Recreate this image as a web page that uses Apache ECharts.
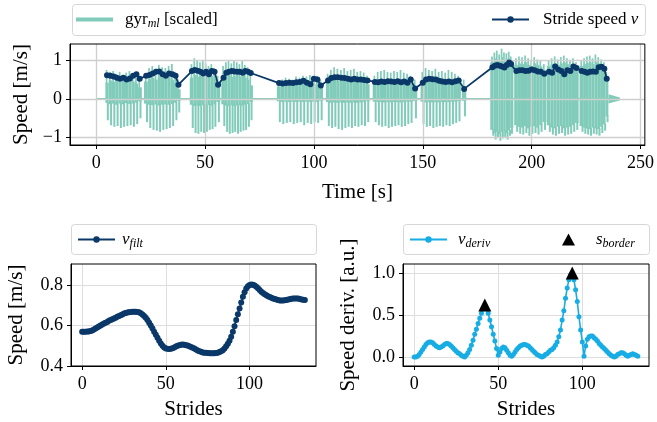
<!DOCTYPE html>
<html>
<head>
<meta charset="utf-8">
<script src="https://cdn.jsdelivr.net/npm/echarts@6/dist/echarts.min.js"></script>
<style>
  html, body { margin: 0; padding: 0; background: #fff; }
  #chart { width: 657px; height: 422px; }
</style>
</head>
<body>
<div id="chart"></div>
<script>
// stride times [s] and stride speeds [m/s], one entry per stride (12 walking bouts)
const strideTime = [
  5.0, 6.5, 8.0, 9.5, 11.0, 12.5, 14.0, 15.5, 17.0, 18.5, 20.0,
  23.0, 24.5, 26.0, 27.5, 29.0, 30.5, 32.0, 33.5, 35.0, 36.5, 37.8,
  44.0, 45.3, 46.6, 47.9, 49.2, 50.5, 51.8, 53.1, 54.4, 56.0,
  58.5, 59.8, 61.0, 62.3, 63.5, 64.8, 66.0, 67.3, 68.5, 69.8, 71.0,
  84.0, 85.6, 87.2, 88.8, 90.4, 92.0, 93.6, 95.2, 96.8, 98.4, 100.0, 101.6, 103.2,
  106.5, 108.0, 109.5, 111.0, 112.6, 114.1, 115.6, 117.1, 118.6, 120.1, 121.6, 123.1, 124.6,
  128.0, 129.5, 131.0, 132.5, 134.0, 135.5, 137.0, 138.5, 140.0, 141.5, 143.0, 144.5, 146.5,
  150.0, 151.5, 153.0, 154.5, 156.0, 157.5, 159.0, 160.5, 162.0, 163.5, 165.0, 166.5, 169.0,
  182.0, 183.1, 184.2, 185.3, 186.4, 187.5, 188.6, 189.7, 190.6,
  193.0, 194.4, 195.8, 197.2, 198.6, 200.0, 201.4, 202.8, 204.2, 205.8,
  208.0, 209.4, 210.8, 212.2, 213.6, 215.0, 216.4, 217.8, 219.2, 220.6,
  223.0, 224.3, 225.6, 226.9, 228.2, 229.5, 230.8, 232.1, 233.4, 234.5
]
const strideSpeed = [
  0.61, 0.60, 0.58, 0.55, 0.52, 0.55, 0.50, 0.53, 0.60, 0.64, 0.52,
  0.60, 0.62, 0.66, 0.70, 0.71, 0.64, 0.60, 0.66, 0.64, 0.60, 0.37,
  0.72, 0.75, 0.73, 0.70, 0.66, 0.70, 0.64, 0.72, 0.70, 0.37,
  0.55, 0.68, 0.70, 0.72, 0.71, 0.70, 0.70, 0.68, 0.72, 0.70, 0.67,
  0.41, 0.40, 0.41, 0.42, 0.41, 0.43, 0.44, 0.47, 0.42, 0.38, 0.52, 0.50, 0.35,
  0.48, 0.54, 0.56, 0.56, 0.55, 0.54, 0.52, 0.50, 0.52, 0.50, 0.50, 0.49, 0.48,
  0.44, 0.43, 0.45, 0.44, 0.46, 0.45, 0.44, 0.46, 0.43, 0.45, 0.42, 0.50, 0.27,
  0.42, 0.50, 0.52, 0.51, 0.50, 0.47, 0.45, 0.44, 0.45, 0.43, 0.46, 0.48, 0.26,
  0.82, 0.86, 0.88, 0.86, 0.84, 0.81, 0.88, 0.94, 0.90,
  0.72, 0.74, 0.74, 0.72, 0.73, 0.76, 0.74, 0.71, 0.70, 0.65,
  0.70, 0.68, 0.84, 0.76, 0.72, 0.64, 0.74, 0.72, 0.84, 0.80,
  0.72, 0.70, 0.68, 0.70, 0.71, 0.70, 0.82, 0.83, 0.78, 0.52
]

// gyr_ml (scaled): peak values of each stride swing
const gyrPos = [
  0.75, 0.70, 0.72, 0.65, 0.70, 0.62, 0.68, 0.72, 0.60, 0.55, 0.50,
  0.60, 0.80, 0.85, 0.78, 0.88, 0.82, 0.80, 0.85, 0.90, 0.70, 0.50,
  0.90, 1.05, 0.98, 0.95, 1.00, 0.92, 0.85, 0.90, 0.80, 0.60,
  0.85, 0.95, 1.00, 0.92, 0.98, 0.95, 0.90, 1.00, 0.88, 0.82, 0.60,
  0.45, 0.50, 0.55, 0.52, 0.50, 0.58, 0.55, 0.60, 0.58, 0.62, 0.55, 0.60, 0.50,
  0.65, 0.75, 0.82, 0.78, 0.75, 0.80, 0.72, 0.75, 0.78, 0.70, 0.72, 0.68, 0.60,
  0.60, 0.70, 0.72, 0.75, 0.70, 0.68, 0.72, 0.70, 0.75, 0.68, 0.65, 0.60, 0.50,
  0.70, 0.80, 0.75, 0.72, 0.78, 0.70, 0.72, 0.68, 0.75, 0.70, 0.65, 0.60, 0.50,
  1.10, 1.20, 1.25, 1.15, 1.30, 1.20, 1.18, 1.22, 1.10,
  1.05, 1.10, 1.08, 1.12, 1.05, 1.00, 1.08, 1.02, 0.98, 0.90,
  1.00, 1.05, 1.10, 1.02, 1.08, 1.12, 1.05, 1.00, 1.05, 0.95,
  1.00, 1.05, 1.10, 1.12, 1.05, 1.15, 1.08, 1.02, 0.95, 0.70
]
const gyrNeg = [
  -0.55, -0.68, -0.72, -0.70, -0.75, -0.72, -0.70, -0.68, -0.72, -0.65, -0.50,
  -0.60, -0.75, -0.80, -0.82, -0.85, -0.80, -0.78, -0.75, -0.70, -0.55, -0.35,
  -0.75, -0.88, -0.90, -0.85, -0.88, -0.85, -0.80, -0.78, -0.72, -0.60,
  -0.70, -0.85, -0.90, -0.88, -0.85, -0.90, -0.85, -0.82, -0.80, -0.72, -0.55,
  -0.60, -0.65, -0.62, -0.60, -0.65, -0.62, -0.60, -0.68, -0.62, -0.65, -0.60, -0.62, -0.55,
  -0.70, -0.75, -0.72, -0.78, -0.80, -0.75, -0.72, -0.75, -0.70, -0.72, -0.68, -0.70, -0.60,
  -0.60, -0.68, -0.72, -0.70, -0.75, -0.72, -0.70, -0.68, -0.72, -0.70, -0.65, -0.62, -0.50,
  -0.65, -0.72, -0.70, -0.75, -0.72, -0.70, -0.72, -0.68, -0.70, -0.65, -0.62, -0.58, -0.45,
  -0.95, -1.05, -1.00, -1.08, -1.02, -0.98, -1.05, -0.95, -0.90,
  -0.85, -0.90, -0.92, -0.88, -0.95, -0.90, -0.88, -0.92, -0.85, -0.80,
  -0.85, -0.92, -0.95, -0.90, -0.88, -0.95, -0.92, -0.90, -0.85, -0.80,
  -0.85, -0.90, -0.92, -0.95, -0.90, -0.92, -0.95, -0.88, -0.82, -0.60
]
// densely filled part of each stride swing (upper and lower edge)
const gyrMid = [
  0.42, 0.48, 0.45, 0.50, 0.44, 0.47, 0.43, 0.49, 0.45, 0.40, 0.30,
  0.45, 0.52, 0.55, 0.50, 0.58, 0.54, 0.52, 0.56, 0.50, 0.42, 0.25,
  0.55, 0.62, 0.58, 0.60, 0.56, 0.62, 0.57, 0.60, 0.52, 0.35,
  0.50, 0.58, 0.62, 0.57, 0.60, 0.63, 0.58, 0.60, 0.55, 0.50, 0.35,
  0.32, 0.38, 0.40, 0.36, 0.40, 0.42, 0.38, 0.41, 0.43, 0.40, 0.38, 0.40, 0.30,
  0.42, 0.48, 0.52, 0.47, 0.50, 0.53, 0.48, 0.50, 0.47, 0.49, 0.46, 0.44, 0.38,
  0.38, 0.44, 0.46, 0.42, 0.47, 0.44, 0.46, 0.43, 0.47, 0.44, 0.42, 0.40, 0.30,
  0.44, 0.50, 0.47, 0.49, 0.46, 0.48, 0.45, 0.47, 0.44, 0.46, 0.42, 0.40, 0.30,
  0.95, 1.05, 1.02, 0.98, 1.08, 1.00, 1.04, 1.00, 0.90,
  0.88, 0.92, 0.90, 0.95, 0.88, 0.85, 0.92, 0.88, 0.84, 0.75,
  0.85, 0.90, 0.92, 0.88, 0.92, 0.95, 0.90, 0.86, 0.88, 0.80,
  0.85, 0.90, 0.93, 0.95, 0.90, 0.96, 0.92, 0.88, 0.80, 0.55
]
const gyrLow = [
  -0.10, -0.14, -0.12, -0.15, -0.12, -0.14, -0.11, -0.13, -0.12, -0.10, -0.06,
  -0.12, -0.15, -0.16, -0.14, -0.17, -0.15, -0.14, -0.15, -0.13, -0.10, -0.05,
  -0.15, -0.18, -0.17, -0.18, -0.16, -0.18, -0.16, -0.17, -0.14, -0.08,
  -0.14, -0.17, -0.18, -0.16, -0.18, -0.17, -0.16, -0.17, -0.15, -0.13, -0.08,
  -0.06, -0.08, -0.07, -0.08, -0.07, -0.08, -0.07, -0.08, -0.07, -0.08, -0.07, -0.08, -0.05,
  -0.08, -0.10, -0.09, -0.10, -0.09, -0.10, -0.09, -0.10, -0.09, -0.10, -0.09, -0.08, -0.06,
  -0.07, -0.08, -0.08, -0.09, -0.08, -0.09, -0.08, -0.08, -0.09, -0.08, -0.07, -0.07, -0.05,
  -0.07, -0.09, -0.08, -0.09, -0.08, -0.09, -0.08, -0.08, -0.08, -0.07, -0.07, -0.06, -0.05,
  -0.80, -0.88, -0.85, -0.90, -0.86, -0.84, -0.88, -0.82, -0.75,
  -0.68, -0.72, -0.74, -0.70, -0.76, -0.72, -0.70, -0.74, -0.68, -0.60,
  -0.68, -0.74, -0.76, -0.72, -0.70, -0.76, -0.74, -0.72, -0.68, -0.62,
  -0.70, -0.74, -0.76, -0.78, -0.74, -0.76, -0.78, -0.72, -0.66, -0.45
]
// quiet wobble after the last stride: start, end [s], amplitude
const tailSpan = [235.3, 240.5, 0.12]

// filtered speed and normalised derivative per stride index (0..133)
const vFilt = [
  0.569, 0.569, 0.569, 0.570, 0.571, 0.573, 0.576, 0.580, 0.585, 0.590,
  0.595, 0.600, 0.605, 0.610, 0.614, 0.618, 0.623, 0.627, 0.631, 0.635,
  0.639, 0.643, 0.647, 0.651, 0.655, 0.659, 0.662, 0.664, 0.666, 0.667,
  0.668, 0.668, 0.668, 0.667, 0.665, 0.661, 0.655, 0.647, 0.638, 0.627,
  0.614, 0.600, 0.585, 0.569, 0.554, 0.540, 0.525, 0.511, 0.500, 0.492,
  0.487, 0.485, 0.484, 0.485, 0.488, 0.492, 0.496, 0.500, 0.503, 0.505,
  0.506, 0.505, 0.503, 0.501, 0.498, 0.494, 0.490, 0.486, 0.481, 0.477,
  0.473, 0.470, 0.467, 0.466, 0.465, 0.464, 0.463, 0.463, 0.463, 0.463,
  0.464, 0.466, 0.469, 0.473, 0.478, 0.486, 0.497, 0.510, 0.525, 0.545,
  0.569, 0.597, 0.627, 0.656, 0.684, 0.714, 0.742, 0.765, 0.783, 0.794,
  0.800, 0.803, 0.802, 0.798, 0.792, 0.784, 0.776, 0.767, 0.761, 0.755,
  0.750, 0.745, 0.741, 0.737, 0.734, 0.731, 0.728, 0.726, 0.724, 0.724,
  0.724, 0.725, 0.726, 0.728, 0.730, 0.732, 0.733, 0.734, 0.734, 0.733,
  0.731, 0.729, 0.727, 0.726
]
const vDeriv = [
  0.00, 0.00, 0.01, 0.03, 0.06, 0.09, 0.12, 0.15, 0.17, 0.18,
  0.18, 0.17, 0.15, 0.13, 0.12, 0.11, 0.12, 0.13, 0.15, 0.16,
  0.16, 0.15, 0.13, 0.11, 0.09, 0.07, 0.05, 0.04, 0.02, 0.01,
  0.00, 0.02, 0.05, 0.09, 0.14, 0.20, 0.27, 0.33, 0.40, 0.46,
  0.52, 0.57, 0.62, 0.57, 0.52, 0.44, 0.36, 0.27, 0.19, 0.10,
  0.02, 0.06, 0.10, 0.12, 0.11, 0.08, 0.05, 0.02, 0.01, 0.03,
  0.06, 0.09, 0.11, 0.13, 0.14, 0.15, 0.15, 0.14, 0.13, 0.11,
  0.09, 0.07, 0.05, 0.03, 0.02, 0.01, 0.00, 0.01, 0.03, 0.04,
  0.06, 0.08, 0.09, 0.11, 0.14, 0.18, 0.24, 0.32, 0.44, 0.55,
  0.70, 0.82, 0.92, 0.98, 1.00, 0.92, 0.80, 0.66, 0.48, 0.32,
  0.18, 0.01, 0.13, 0.21, 0.24, 0.25, 0.25, 0.23, 0.21, 0.19,
  0.16, 0.14, 0.12, 0.10, 0.08, 0.06, 0.04, 0.02, 0.01, 0.00,
  0.01, 0.03, 0.04, 0.05, 0.05, 0.04, 0.02, 0.01, 0.02, 0.03,
  0.04, 0.03, 0.02, 0.01
]
// strides detected as borders between speed levels
const borderStride = [42, 94]

const timeTicks = [0, 50, 100, 150, 200, 250]
const speedTicks = [-1, 0, 1]
const strideTicks = [0, 50, 100]
const filtTicks = [0.4, 0.6, 0.8]
const derivTicks = [0, 0.5, 1]

const teal = '#80cbb9'
const navy = '#0a3868'
const cyan = '#17ade4'
const font = 'Liberation Serif'

const speedData = strideTime.map((t, i) => [t, strideSpeed[i]])
// each stride: time, gap to previous / next stride, core low / high, negative / positive peak
const gyrData = strideTime.map((t, i) => {
  const prev = i > 0 ? strideTime[i - 1] : t - 1.5
  const next = i < strideTime.length - 1 ? strideTime[i + 1] : t + 1.5
  return [t, Math.min(t - prev, 2), Math.min(next - t, 2), gyrLow[i], gyrMid[i], gyrNeg[i], gyrPos[i]]
})
const filtData = vFilt.map((v, i) => [i, v])
const derivData = vDeriv.map((v, i) => [i, v])
const borderData = borderStride.map(i => [i, vDeriv[i]])

const fmtNum = v => (v < 0 ? '\u2212' + Math.abs(v) : String(v))

function makeAxis(gridIndex, min, max, ticks, step, fmt, name, nameGap, isY) {
  return {
    type: 'value',
    gridIndex,
    min,
    max,
    minInterval: step,
    maxInterval: step,
    z: 2,
    name,
    nameLocation: 'middle',
    nameGap,
    nameTextStyle: { fontFamily: font, fontSize: 21, color: '#000' },
    axisLine: { show: true, onZero: false, lineStyle: { color: '#000', width: 1 } },
    axisTick: { show: true, length: 4, customValues: ticks, lineStyle: { color: '#000', width: 1 } },
    axisLabel: {
      customValues: ticks,
      fontFamily: font,
      fontSize: 18,
      color: '#000',
      margin: isY ? 8 : 9,
      formatter: fmt
    },
    splitLine: { show: true, lineStyle: { color: gridIndex === 0 ? '#cfcfcf' : '#dedede', width: gridIndex === 0 ? 1.3 : 1 } }
  }
}

const legendText = {
  fontFamily: font,
  fontSize: 17,
  color: '#000',
  rich: {
    n: { fontFamily: font, fontSize: 17, color: '#000' },
    i: { fontFamily: font, fontSize: 17, fontStyle: 'italic', color: '#000' },
    s: { fontFamily: font, fontSize: 12, fontStyle: 'italic', color: '#000', padding: [9, 0, 0, 0] }
  }
}
const legendLabels = {
  gyr: '{n|gyr}{s|ml}{n| [scaled]}',
  speed: '{n|Stride speed }{i|v}',
  filt: '{i|v}{s|filt}',
  deriv: '{i|v}{s|deriv}',
  border: '{i|s}{s|border}'
}
function legend(left, top, data, pad, extra) {
  return Object.assign({
    selectedMode: false,
    orient: 'horizontal',
    left,
    top,
    itemWidth: 37,
    itemHeight: 8,
    padding: 0,
    data,
    formatter: name => legendLabels[name],
    textStyle: Object.assign({}, legendText, { padding: [0, 0, 0, pad] })
  }, extra || {})
}

const boxStyle = { fill: '#fff', stroke: '#d6d6d6', lineWidth: 1 }

const option = {
  animation: false,
  backgroundColor: '#fff',
  graphic: [
    { type: 'rect', shape: { x: 72.5, y: 4.5, width: 573, height: 31, r: 3 }, style: boxStyle, z: -10 },
    { type: 'rect', shape: { x: 71.5, y: 224.5, width: 245, height: 30, r: 3 }, style: boxStyle, z: -10 },
    { type: 'rect', shape: { x: 403.5, y: 224.5, width: 246, height: 30, r: 3 }, style: boxStyle, z: -10 }
  ],
  legend: [
    legend(76, 11, [{ name: 'gyr', icon: 'path://M0,0H37V4H0Z', itemStyle: { color: teal } }], 7, { itemHeight: 4 }),
    legend(491, 11, ['speed'], 9),
    legend(77, 231, ['filt'], 2),
    legend(409, 231, ['deriv'], 6),
    legend(562, 231, [{ name: 'border', icon: 'triangle', itemStyle: { color: '#000', opacity: 1 } }], 16, { itemWidth: 13, itemHeight: 12 })
  ],
  grid: [
    { left: 70, top: 44, width: 577, height: 101, show: true, borderColor: '#000', borderWidth: 1, backgroundColor: 'transparent', z: 4 },
    { left: 71, top: 264, width: 245, height: 102, show: true, borderColor: '#000', borderWidth: 1, backgroundColor: 'transparent', z: 4 },
    { left: 403, top: 264, width: 246, height: 102, show: true, borderColor: '#000', borderWidth: 1, backgroundColor: 'transparent', z: 4 }
  ],
  xAxis: [
    makeAxis(0, -12, 252, timeTicks, 50, fmtNum, 'Time [s]', 37, false),
    makeAxis(1, -6.65, 139.65, strideTicks, 50, fmtNum, 'Strides', 33, false),
    makeAxis(2, -6.65, 139.65, strideTicks, 50, fmtNum, 'Strides', 33, false)
  ],
  yAxis: [
    makeAxis(0, -1.19, 1.42, speedTicks, 1, fmtNum, 'Speed [m/s]', 36, true),
    makeAxis(1, 0.4, 0.904, filtTicks, 0.2, v => v.toFixed(1), 'Speed [m/s]', 44, true),
    makeAxis(2, -0.107, 1.107, derivTicks, 0.5, v => v.toFixed(1), 'Speed deriv. [a.u.]', 44, true)
  ],
  series: [
    {
      name: 'gyr',
      type: 'line',
      xAxisIndex: 0,
      yAxisIndex: 0,
      data: [[0, 0], [tailSpan[1], 0]],
      symbol: 'none',
      lineStyle: { color: teal, width: 2 },
      itemStyle: { color: teal },
      z: 1
    },
    {
      name: 'gyrSignal',
      type: 'custom',
      xAxisIndex: 0,
      yAxisIndex: 0,
      data: gyrData,
      z: 1,
      clip: true,
      renderItem: (params, api) => {
        const t = api.value(0)
        const x = api.coord([t, 0])[0]
        const xl = api.coord([t - api.value(1) / 2, 0])[0]
        const xr = api.coord([t + api.value(2) / 2, 0])[0]
        const yLow = api.coord([t, api.value(3)])[1]
        const yMid = api.coord([t, api.value(4)])[1]
        const yNeg = api.coord([t, api.value(5)])[1]
        const yPos = api.coord([t, api.value(6)])[1]
        return {
          type: 'group',
          children: [
            // dense core of the swing
            { type: 'rect', shape: { x: xl, y: yMid, width: xr - xl, height: yLow - yMid }, style: { fill: teal } },
            // positive and negative peak of the stride
            { type: 'rect', shape: { x: x - 1.3, y: yPos, width: 1.7, height: yMid - yPos + 1 }, style: { fill: teal } },
            { type: 'rect', shape: { x: x - 0.2, y: yLow - 1, width: 2, height: yNeg - yLow + 1 }, style: { fill: teal } }
          ]
        }
      }
    },
    {
      name: 'gyrTail',
      type: 'custom',
      xAxisIndex: 0,
      yAxisIndex: 0,
      data: [tailSpan],
      z: 1,
      clip: true,
      renderItem: (params, api) => {
        const p1 = api.coord([api.value(0), api.value(2)])
        const p2 = api.coord([api.value(1), -api.value(2)])
        const yc = (p1[1] + p2[1]) / 2
        return { type: 'polygon', shape: { points: [[p1[0], p1[1]], [p2[0], yc - 1.5], [p2[0], yc + 1.5], [p1[0], p2[1]]] }, style: { fill: teal } }
      }
    },
    {
      name: 'speed',
      type: 'line',
      xAxisIndex: 0,
      yAxisIndex: 0,
      data: speedData,
      symbol: 'circle',
      symbolSize: 6,
      showAllSymbol: true,
      lineStyle: { color: navy, width: 1.8 },
      itemStyle: { color: navy },
      z: 3
    },
    {
      name: 'filt',
      type: 'line',
      xAxisIndex: 1,
      yAxisIndex: 1,
      data: filtData,
      symbol: 'circle',
      symbolSize: 6,
      showAllSymbol: true,
      lineStyle: { color: navy, width: 1.8 },
      itemStyle: { color: navy },
      z: 3
    },
    {
      name: 'deriv',
      type: 'line',
      xAxisIndex: 2,
      yAxisIndex: 2,
      data: derivData,
      symbol: 'circle',
      symbolSize: 5,
      showAllSymbol: true,
      lineStyle: { color: cyan, width: 1.6 },
      itemStyle: { color: cyan },
      z: 3
    },
    {
      name: 'border',
      type: 'scatter',
      xAxisIndex: 2,
      yAxisIndex: 2,
      data: borderData,
      symbol: 'triangle',
      symbolSize: 13,
      itemStyle: { color: '#000', opacity: 1 },
      z: 4
    }
  ]
}

const chart = echarts.init(document.getElementById('chart'))
chart.setOption(option)
window.addEventListener('resize', () => chart.resize())
</script>
</body>
</html>
